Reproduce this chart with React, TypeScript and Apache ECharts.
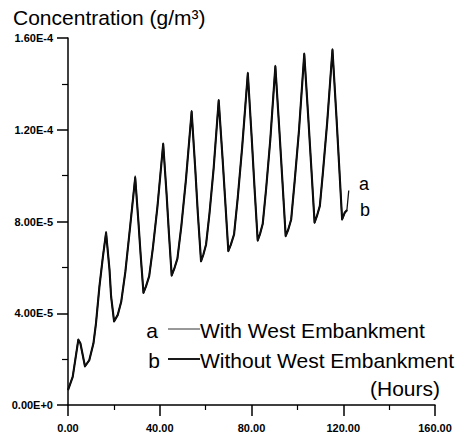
import React, { useEffect, useRef } from "react";
import * as echarts from "echarts";

// Hours (x) and concentration values (g/m³)
const hoursA = [0, 2.05, 4.5, 5.4, 7.4, 9.3, 11.1, 12.2, 13.7, 15.2, 16.6, 18.1, 18.8, 20.1, 21.7, 23.2, 25.0, 27.2, 29.3, 30.7, 31.7, 32.9, 34.0, 35.4, 37.0, 39.0, 41.5, 43.0, 44.0, 45.2, 46.3, 47.7, 49.4, 51.4, 53.9, 55.5, 56.6, 58.0, 59.0, 60.2, 61.7, 63.5, 65.7, 67.4, 68.6, 69.9, 71.0, 72.4, 74.0, 75.9, 78.4, 80.1, 81.3, 82.7, 83.7, 84.9, 86.4, 88.2, 90.4, 92.2, 93.5, 94.9, 96.0, 97.3, 98.8, 100.7, 103.0, 104.8, 106.1, 107.5, 108.5, 109.8, 111.2, 113.0, 115.3, 117.0, 118.2, 119.5, 120.8, 121.6, 122.4];
const valuesA = [0.65e-5, 1.23e-5, 2.87e-5, 2.69e-5, 1.67e-5, 1.96e-5, 2.69e-5, 3.56e-5, 5.16e-5, 6.47e-5, 7.56e-5, 5.89e-5, 4.72e-5, 3.63e-5, 3.93e-5, 4.5e-5, 5.8e-5, 7.9e-5, 9.98e-5, 7.99e-5, 6.5e-5, 4.87e-5, 5.17e-5, 5.62e-5, 6.84e-5, 8.67e-5, 11.42e-5, 9.16e-5, 7.48e-5, 5.63e-5, 5.93e-5, 6.38e-5, 7.79e-5, 9.81e-5, 12.83e-5, 10.26e-5, 8.36e-5, 6.25e-5, 6.55e-5, 7.0e-5, 8.37e-5, 10.34e-5, 13.31e-5, 10.73e-5, 8.81e-5, 6.69e-5, 6.99e-5, 7.44e-5, 9.03e-5, 11.22e-5, 14.5e-5, 11.63e-5, 9.5e-5, 7.15e-5, 7.45e-5, 7.9e-5, 9.45e-5, 11.59e-5, 14.8e-5, 11.89e-5, 9.73e-5, 7.34e-5, 7.64e-5, 8.09e-5, 9.74e-5, 11.98e-5, 15.34e-5, 12.45e-5, 10.3e-5, 7.93e-5, 8.23e-5, 8.68e-5, 10.21e-5, 12.34e-5, 15.53e-5, 12.62e-5, 10.46e-5, 8.07e-5, 8.4e-5, 8.5e-5, 9.35e-5];

const hoursB = [0, 2.05, 4.5, 5.4, 7.4, 9.3, 11.1, 12.2, 13.7, 15.2, 16.6, 18.1, 18.8, 20.1, 21.7, 23.2, 25.0, 27.2, 29.3, 30.7, 31.7, 32.9, 34.0, 35.4, 37.0, 39.0, 41.5, 43.0, 44.0, 45.2, 46.3, 47.7, 49.4, 51.4, 53.9, 55.5, 56.6, 58.0, 59.0, 60.2, 61.7, 63.5, 65.7, 67.4, 68.6, 69.9, 71.0, 72.4, 74.0, 75.9, 78.4, 80.1, 81.3, 82.7, 83.7, 84.9, 86.4, 88.2, 90.4, 92.2, 93.5, 94.9, 96.0, 97.3, 98.8, 100.7, 103.0, 104.8, 106.1, 107.5, 108.5, 109.8, 111.2, 113.0, 115.3, 117.0, 118.2, 119.5, 120.6, 121.7];
const valuesB = [0.65e-5, 1.23e-5, 2.84e-5, 2.69e-5, 1.69e-5, 1.96e-5, 2.69e-5, 3.56e-5, 5.16e-5, 6.45e-5, 7.5e-5, 5.89e-5, 4.72e-5, 3.65e-5, 3.93e-5, 4.5e-5, 5.8e-5, 7.88e-5, 9.9e-5, 7.99e-5, 6.5e-5, 4.9e-5, 5.17e-5, 5.62e-5, 6.84e-5, 8.65e-5, 11.38e-5, 9.16e-5, 7.48e-5, 5.65e-5, 5.93e-5, 6.38e-5, 7.79e-5, 9.8e-5, 12.78e-5, 10.26e-5, 8.36e-5, 6.27e-5, 6.55e-5, 7.0e-5, 8.37e-5, 10.32e-5, 13.27e-5, 10.73e-5, 8.81e-5, 6.72e-5, 6.99e-5, 7.44e-5, 9.03e-5, 11.2e-5, 14.45e-5, 11.63e-5, 9.5e-5, 7.18e-5, 7.45e-5, 7.9e-5, 9.45e-5, 11.57e-5, 14.75e-5, 11.89e-5, 9.73e-5, 7.37e-5, 7.64e-5, 8.09e-5, 9.74e-5, 11.96e-5, 15.3e-5, 12.45e-5, 10.3e-5, 7.96e-5, 8.23e-5, 8.68e-5, 10.21e-5, 12.32e-5, 15.48e-5, 12.62e-5, 10.46e-5, 8.1e-5, 8.38e-5, 8.5e-5];

const xTickLabels = ["0.00", "40.00", "80.00", "120.00", "160.00"];
const yTickLabels = ["0.00E+0", "4.00E-5", "8.00E-5", "1.20E-4", "1.60E-4"];

const legendA = "With West Embankment";
const legendB = "Without West Embankment";
const titleText = "Concentration (g/m³)";
const xUnitText = "(Hours)";

const FONT = "'Liberation Sans', Arial, sans-serif";

export default function App() {
  const ref = useRef<HTMLDivElement>(null);
  useEffect(() => {
    if (!ref.current) return;
    const chart = echarts.init(ref.current, null, { renderer: "svg" });
    const dataA = hoursA.map((h, i) => [h, valuesA[i]]);
    const dataB = hoursB.map((h, i) => [h, valuesB[i]]);
    chart.setOption({
      animation: false,
      backgroundColor: "#fff",
      grid: { left: 68, right: 20, top: 38, bottom: 35, containLabel: false },
      xAxis: {
        type: "value",
        min: 0,
        max: 160,
        interval: 40,
        axisLine: { show: true, lineStyle: { color: "#000", width: 1.5 } },
        axisTick: { show: true, inside: false, length: 11, lineStyle: { color: "#000", width: 1.5 } },
        minorTick: { show: true, splitNumber: 2, length: 5, lineStyle: { color: "#000", width: 1.2 } },
        splitLine: { show: false },
        axisLabel: {
          fontFamily: FONT,
          fontWeight: "bold",
          fontSize: 11,
          color: "#000",
          margin: 17,
          formatter: (v: number) => xTickLabels[Math.round(v / 40)] ?? "",
        },
      },
      yAxis: {
        type: "value",
        min: 0,
        max: 1.6e-4,
        interval: 4e-5,
        axisLine: { show: true, lineStyle: { color: "#000", width: 1.5 } },
        axisTick: { show: true, inside: false, length: 11, lineStyle: { color: "#000", width: 1.5 } },
        minorTick: { show: true, splitNumber: 2, length: 6, lineStyle: { color: "#000", width: 1.2 } },
        splitLine: { show: false },
        axisLabel: {
          fontFamily: FONT,
          fontWeight: "bold",
          fontSize: 11,
          color: "#000",
          margin: 15,
          formatter: (v: number) => yTickLabels[Math.round(v / 4e-5)] ?? "",
        },
      },
      series: [
        {
          name: legendB,
          type: "line",
          data: dataB,
          showSymbol: false,
          lineStyle: { color: "#000", width: 2.1, join: "round" },
          z: 2,
        },
        {
          name: legendA,
          type: "line",
          data: dataA,
          showSymbol: false,
          lineStyle: { color: "#111", width: 1.3, join: "round" },
          z: 3,
        },
      ],
      graphic: [
        {
          type: "text",
          left: 13,
          top: 7,
          style: { text: titleText, font: `21px ${FONT}`, fill: "#000" },
        },
        {
          type: "text",
          x: 152,
          y: 330,
          style: { text: "a", font: `21px ${FONT}`, fill: "#000", textAlign: "center", textVerticalAlign: "middle" },
        },
        {
          type: "line",
          shape: { x1: 168, y1: 329, x2: 200, y2: 329 },
          style: { stroke: "#333", lineWidth: 1 },
        },
        {
          type: "text",
          x: 200,
          y: 330,
          style: { text: legendA, font: `21px ${FONT}`, fill: "#000", textVerticalAlign: "middle" },
        },
        {
          type: "text",
          x: 154,
          y: 360,
          style: { text: "b", font: `21px ${FONT}`, fill: "#000", textAlign: "center", textVerticalAlign: "middle" },
        },
        {
          type: "line",
          shape: { x1: 168, y1: 359, x2: 200, y2: 359 },
          style: { stroke: "#000", lineWidth: 1.8 },
        },
        {
          type: "text",
          x: 200,
          y: 360,
          style: { text: legendB, font: `21px ${FONT}`, fill: "#000", textVerticalAlign: "middle" },
        },
        {
          type: "text",
          x: 440,
          y: 388,
          style: { text: xUnitText, font: `21px ${FONT}`, fill: "#000", textAlign: "right", textVerticalAlign: "middle" },
        },
        {
          type: "text",
          x: 364,
          y: 184,
          style: { text: "a", font: `18px ${FONT}`, fill: "#000", textAlign: "center", textVerticalAlign: "middle" },
        },
        {
          type: "text",
          x: 365,
          y: 210,
          style: { text: "b", font: `18px ${FONT}`, fill: "#000", textAlign: "center", textVerticalAlign: "middle" },
        },
      ],
    });
    return () => chart.dispose();
  }, []);
  return (
    <div
      ref={ref}
      style={{ position: "fixed", left: 0, top: 0, width: 455, height: 440, background: "#fff" }}
    />
  );
}
